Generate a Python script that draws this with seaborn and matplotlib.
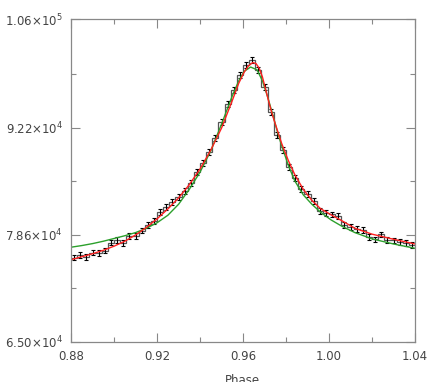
import numpy as np
import pandas as pd
import matplotlib
matplotlib.use("Agg")
import matplotlib.pyplot as plt
import seaborn as sns
from matplotlib.ticker import MultipleLocator, FixedLocator

# binned light curve (counts per phase bin, 56 bins from 0.88 to 1.04)
phase_lo, phase_hi = 0.88, 1.04
counts = [75720, 76060, 75810, 76350, 76320, 76610, 77620, 77970, 77590, 78480,
          78480, 79150, 79870, 80380, 81530, 82160, 82800, 83430, 84200, 85210,
          86610, 87760, 89160, 90930, 92970, 95260, 97040, 98940, 100220, 100850,
          99580, 97420, 94240, 91320, 89410, 87250, 85850, 84450, 83820, 82930,
          81650, 81400, 81210, 81020, 79870, 79620, 79370, 79240, 78350, 78030,
          78670, 77970, 77900, 77710, 77590, 77330]
err = [360] * len(counts)

# model curves
red_phase = [0.880, 0.885, 0.890, 0.895, 0.900, 0.905, 0.910, 0.915, 0.920, 0.925,
             0.930, 0.935, 0.940, 0.945, 0.950, 0.955, 0.958, 0.9605, 0.9625, 0.9645,
             0.966, 0.9675, 0.969, 0.9705, 0.972, 0.9735, 0.975, 0.978, 0.981, 0.984,
             0.988, 0.992, 0.996, 1.001, 1.006, 1.012, 1.020, 1.030, 1.040]
red_flux = [75460, 75830, 76210, 76650, 77170, 77800, 78600, 79550, 80650, 81900,
            83300, 85000, 87000, 89400, 92200, 95700, 97900, 99300, 100100, 100520,
            100400, 99800, 98700, 97100, 95500, 94000, 92700, 90200, 88100, 86300,
            84400, 83000, 81950, 81150, 80400, 79450, 78700, 78050, 77450]

green_phase = [0.880, 0.885, 0.890, 0.895, 0.900, 0.905, 0.910, 0.915, 0.920, 0.925,
               0.930, 0.935, 0.940, 0.945, 0.950, 0.955, 0.958, 0.9605, 0.9635, 0.9665,
               0.969, 0.9715, 0.974, 0.976, 0.978, 0.981, 0.984, 0.988, 0.992, 0.996,
               1.001, 1.006, 1.012, 1.020, 1.030, 1.040]
green_flux = [77040, 77250, 77500, 77800, 78150, 78500, 78900, 79450, 80150, 81100,
              82500, 84400, 86600, 89300, 92700, 96300, 98200, 99400, 99950, 99600,
              98200, 96100, 93700, 91700, 89900, 87500, 85500, 83700, 82500, 81500,
              80500, 79700, 78900, 78100, 77450, 76900]

y_ticks = [65000, 78600, 92200, 106000]
y_labels = [r"6.50$\times$10$^{4}$", r"7.86$\times$10$^{4}$",
            r"9.22$\times$10$^{4}$", r"1.06$\times$10$^{5}$"]

sns.set_style("ticks")
plt.rcParams["font.family"] = ["DejaVu Sans"]
plt.rcParams["mathtext.default"] = "regular"

fig = plt.figure(figsize=(4.36, 3.82), dpi=100)
ax = fig.add_axes([0.163, 0.105, 0.789, 0.844])

edges = np.linspace(phase_lo, phase_hi, len(counts) + 1)
centres = 0.5 * (edges[:-1] + edges[1:])
hist = pd.DataFrame({"phase": centres, "flux": counts, "err": err})

ax.stairs(hist["flux"], edges, color="#555555", lw=0.9, baseline=None)
ax.errorbar(hist["phase"], hist["flux"], yerr=hist["err"], fmt="none",
            ecolor="black", elinewidth=0.8, capsize=1.6, capthick=0.8)

green = pd.DataFrame({"phase": green_phase, "flux": green_flux})
red = pd.DataFrame({"phase": red_phase, "flux": red_flux})
sns.lineplot(data=green, x="phase", y="flux", color="#2ca02c", lw=1.0, ax=ax)
sns.lineplot(data=red, x="phase", y="flux", color="#ff2020", lw=1.0, ax=ax)

ax.set_xlim(phase_lo, phase_hi)
ax.set_ylim(65000, 106000)
ax.xaxis.set_major_locator(MultipleLocator(0.04))
ax.xaxis.set_minor_locator(MultipleLocator(0.02))
ax.set_xticklabels([f"{v:.2f}" for v in ax.get_xticks()])
ax.yaxis.set_major_locator(FixedLocator(y_ticks))
ax.yaxis.set_minor_locator(FixedLocator([71800, 85400, 99100]))
ax.set_yticklabels(y_labels)
ax.set_xlabel("")
ax.set_ylabel("")

for s in ax.spines.values():
    s.set_visible(True)
    s.set_color("#888888")
    s.set_linewidth(0.9)
ax.tick_params(which="both", direction="in", top=True, right=True,
               colors="#888888", labelcolor="#444444", labelsize=8.5, width=0.8)
ax.tick_params(which="major", length=6.5, pad=6)
ax.tick_params(which="minor", length=3.5)

fig.text(0.557, 1 - 374 / 382, "Phase", ha="center", va="top",
         fontsize=8.5, color="#444444")

fig.savefig("out.png", dpi=100)
